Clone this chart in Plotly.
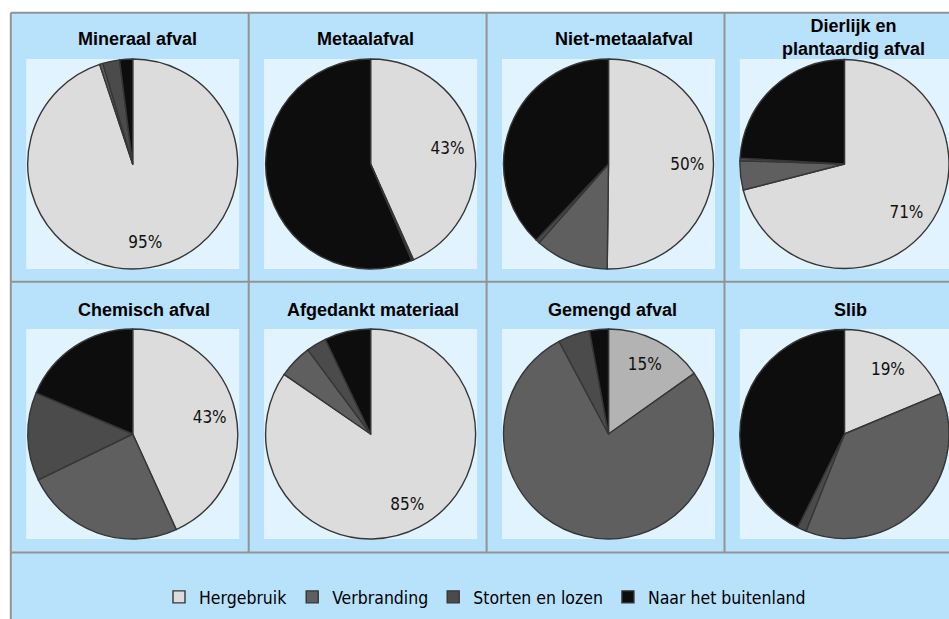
import plotly.graph_objects as go

# ---------------- data ----------------
categories = ["Hergebruik", "Verbranding", "Storten en lozen", "Naar het buitenland"]

panel_titles = [
    "Mineraal afval", "Metaalafval", "Niet-metaalafval", "Dierlijk en<br>plantaardig afval",
    "Chemisch afval", "Afgedankt materiaal", "Gemengd afval", "Slib",
]

mineraal_afval = [94.9, 0.5, 2.6, 2.0]
metaalafval = [43.3, 0.2, 0.1, 56.4]
niet_metaalafval = [50.2, 11.3, 0.6, 37.9]
dierlijk_plantaardig = [71.0, 4.5, 0.4, 24.1]
chemisch_afval = [43.2, 24.6, 13.6, 18.6]
afgedankt_materiaal = [84.6, 5.2, 3.1, 7.1]
gemengd_afval = [15.2, 77.0, 4.9, 2.9]
slib = [18.7, 37.3, 1.4, 42.6]

panel_values = [mineraal_afval, metaalafval, niet_metaalafval, dierlijk_plantaardig,
                chemisch_afval, afgedankt_materiaal, gemengd_afval, slib]

# ---------------- styles ----------------
W, H = 949, 619
slice_colors = ["#DCDCDC", "#5F5F5F", "#4B4B4B", "#0D0D0D"]
gemengd_colors = ["#B3B3B3", "#5F5F5F", "#4B4B4B", "#0D0D0D"]
OUTER_BG = "#B8E2FC"
PLOT_BG = "#E1F3FE"
GRID = "#939393"
LABEL_FONT = "DejaVu Sans Condensed, DejaVu Sans"


def X(px):
    return px / W


def Y(py):
    return 1 - py / H


COL_X0 = 10.8
COL_W = 237.9
ROW_Y0 = [12.7, 281.7]
ROW_BOTTOM = 552.5
PLOT_DX = 15.4
PLOT_W = 213
PLOT_DY = [46.3, 47.3]
PLOT_H = 210
TITLE_CX = [137, 365, 624, 853, 144, 373, 612, 850]
TITLE_CY = [39.5, 39.5, 39.5, 37.5, 310.5, 310.5, 310.5, 310.5]

fig = go.Figure()
shapes = []
annotations = []

# outer background
shapes.append(dict(type="rect", xref="paper", yref="paper", layer="below",
                   x0=X(COL_X0), x1=X(980), y0=Y(COL_X0 + 1.9), y1=Y(640),
                   fillcolor=OUTER_BG, line=dict(width=0)))

for i, vals in enumerate(panel_values):
    row, col = divmod(i, 4)
    px0 = COL_X0 + col * COL_W + PLOT_DX
    px1 = px0 + PLOT_W
    py0 = ROW_Y0[row] + PLOT_DY[row]
    py1 = py0 + PLOT_H
    shapes.append(dict(type="rect", xref="paper", yref="paper", layer="below",
                       x0=X(px0), x1=X(px1), y0=Y(py1), y1=Y(py0),
                       fillcolor=PLOT_BG, line=dict(width=0)))
    dom = dict(x=[X(px0), min(1.0, X(px1))], y=[Y(py1), Y(py0)])
    colors = gemengd_colors if i == 6 else slice_colors
    fig.add_trace(go.Pie(
        labels=categories, values=vals, sort=False, direction="clockwise", rotation=0,
        domain=dom, marker=dict(colors=colors, line=dict(color="#363636", width=1.4)),
        textinfo="none", hoverinfo="skip", showlegend=(i == 0), legendgroup="g",
    ))
    # transparent ring carrying the percentage label of the first slice
    fig.add_trace(go.Pie(
        labels=categories, values=vals, sort=False, direction="clockwise", rotation=0,
        domain=dom, hole=0.5,
        marker=dict(colors=["rgba(0,0,0,0)"] * 4, line=dict(width=0)),
        texttemplate=["%{percent:.0%}", "", "", ""], textposition="inside",
        insidetextorientation="horizontal",
        textfont=dict(family=LABEL_FONT, size=17, color="#111111"),
        hoverinfo="skip", showlegend=False,
    ))
    annotations.append(dict(xref="paper", yref="paper", x=X(TITLE_CX[i]), y=Y(TITLE_CY[i]),
                            xanchor="center", yanchor="middle", showarrow=False,
                            text=panel_titles[i],
                            font=dict(family="Liberation Sans", size=18, color="#000000",
                                      weight="bold")))

# grid lines
for yy in [ROW_Y0[0], ROW_Y0[1], ROW_BOTTOM]:
    shapes.append(dict(type="line", xref="paper", yref="paper", layer="below",
                       x0=X(COL_X0), x1=X(980), y0=Y(yy), y1=Y(yy),
                       line=dict(color=GRID, width=2)))
for c in range(4):
    xx = COL_X0 + c * COL_W
    shapes.append(dict(type="line", xref="paper", yref="paper", layer="below",
                       x0=X(xx), x1=X(xx), y0=Y(ROW_Y0[0]),
                       y1=Y(640 if c == 0 else ROW_BOTTOM),
                       line=dict(color=GRID, width=2)))

fig.update_layout(
    width=W, height=H, margin=dict(l=0, r=0, t=0, b=0),
    paper_bgcolor="white", plot_bgcolor="white",
    shapes=shapes, annotations=annotations, hovermode=False,
    legend=dict(orientation="h", x=X(485), xanchor="center", y=Y(597), yanchor="middle",
                font=dict(family=LABEL_FONT, size=17.5, color="#000000"),
                bgcolor="rgba(0,0,0,0)", traceorder="normal"),
)

fig.write_html("out.html")
